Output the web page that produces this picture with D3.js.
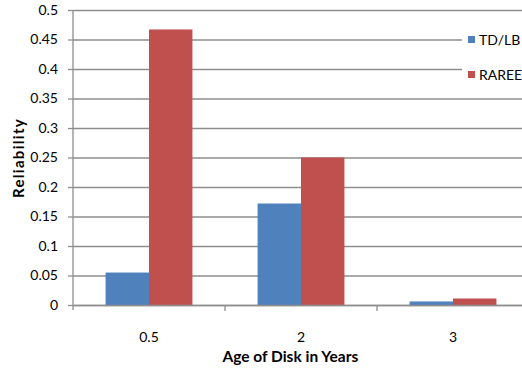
<!DOCTYPE html>
<html>
<head>
<meta charset="utf-8">
<script src="https://cdn.jsdelivr.net/npm/d3@7"></script>
<style>
  body { margin: 0; background: #fff; }
  text { font-family: Lato, "Liberation Sans", sans-serif; fill: #000; }
</style>
</head>
<body>
<div id="bar-chart"></div>
<script>
// chart data
const categories = ["0.5", "2", "3"];
const seriesNames = ["TD/LB", "RAREE"];
const tdlbValues = [0.055, 0.172, 0.006];
const rareeValues = [0.467, 0.25, 0.011];
const yTickValues = [0, 0.05, 0.1, 0.15, 0.2, 0.25, 0.3, 0.35, 0.4, 0.45, 0.5];

function draw() {
  // margins and dimensions of the svg area
  const margin = {top: 10, right: -7, bottom: 66, left: 73};
  const totalWidth = 522, totalHeight = 371;
  const width = totalWidth - margin.left - margin.right;
  const height = totalHeight - margin.top - margin.bottom;

  const svg = d3.select("#bar-chart")
    .append("svg")
    .attr("width", totalWidth)
    .attr("height", totalHeight);

  const chart = svg.append("g")
    .attr("transform", `translate(${margin.left}, ${margin.top})`);

  // build rows for the grouped bars
  const data = categories.map((c, i) => ({category: c, "TD/LB": tdlbValues[i], "RAREE": rareeValues[i]}));

  // scales
  const xScale = d3.scaleBand()
    .domain(categories)
    .range([0, width])
    .padding(0);

  const xInner = d3.scaleBand()
    .domain(seriesNames)
    .range([0, xScale.bandwidth()])
    .paddingInner(0)
    .paddingOuter(0.75);

  const yScale = d3.scaleLinear()
    .domain([0, 0.5])
    .range([height, 0]);

  const colorScale = d3.scaleOrdinal()
    .domain(seriesNames)
    .range(["#4f81bd", "#c0504d"]);

  // gridlines
  chart.append("g")
    .attr("class", "grid-lines")
    .call(d3.axisRight(yScale).tickValues(yTickValues).tickSize(width).tickFormat(""))
    .call(g => g.select(".domain").remove())
    .call(g => g.selectAll("line").attr("stroke", "#8e8e8e").attr("stroke-width", 1.3));

  // bars
  chart.append("g")
    .selectAll("g")
    .data(data)
    .join("g")
    .attr("transform", d => `translate(${xScale(d.category)}, 0)`)
    .selectAll("rect")
    .data(d => seriesNames.map(k => ({key: k, value: d[k]})))
    .join("rect")
    .attr("x", d => xInner(d.key))
    .attr("y", d => yScale(d.value))
    .attr("width", xInner.bandwidth())
    .attr("height", d => yScale(0) - yScale(d.value))
    .attr("fill", d => colorScale(d.key));

  // y axis
  const yAxisGroup = chart.append("g")
    .call(d3.axisLeft(yScale)
      .tickValues(yTickValues)
      .tickFormat(d => String(+d.toFixed(2)))
      .tickSize(5)
      .tickSizeOuter(0)
      .tickPadding(10));
  yAxisGroup.select(".domain").attr("stroke", "#8e8e8e").attr("stroke-width", 1.3)
    .attr("d", `M0,${height + 5}V0`);
  yAxisGroup.selectAll("line").attr("stroke", "#8e8e8e").attr("stroke-width", 1.3);
  yAxisGroup.selectAll("text").style("font-size", "14px").attr("fill", "#000");

  // x axis (ticks sit between the categories)
  const xAxisGroup = chart.append("g")
    .attr("transform", `translate(0, ${height})`)
    .call(d3.axisBottom(xScale).tickSize(0).tickSizeOuter(0).tickPadding(27));
  xAxisGroup.select(".domain").attr("stroke", "#8e8e8e").attr("stroke-width", 1.3);
  xAxisGroup.selectAll("text").style("font-size", "14px").attr("fill", "#000");
  xAxisGroup.selectAll(".sep")
    .data(categories.slice(1))
    .join("line")
    .attr("class", "sep")
    .attr("x1", d => xScale(d))
    .attr("x2", d => xScale(d))
    .attr("y1", 0)
    .attr("y2", 6)
    .attr("stroke", "#8e8e8e")
    .attr("stroke-width", 1.3);

  // axis titles
  svg.append("text")
    .attr("x", margin.left + xScale.bandwidth() * 1.43)
    .attr("y", 362)
    .attr("text-anchor", "middle")
    .style("font-size", "15.5px")
    .style("font-weight", "bold")
    .text("Age of Disk in Years");

  svg.append("text")
    .attr("transform", "translate(24, 158) rotate(-90)")
    .attr("text-anchor", "middle")
    .style("font-size", "15px")
    .style("font-weight", "bold")
    .style("letter-spacing", "1.3px")
    .text("Reliability");

  // legend
  const legend = svg.append("g").attr("transform", "translate(462, 26)");
  legend.append("rect")
    .attr("width", 62)
    .attr("height", 62)
    .attr("fill", "#fff");
  const items = legend.selectAll(".item")
    .data(seriesNames)
    .join("g")
    .attr("class", "item")
    .attr("transform", (d, i) => `translate(6, ${14 + i * 35})`);
  items.append("rect")
    .attr("y", -4)
    .attr("width", 7)
    .attr("height", 7)
    .attr("fill", d => colorScale(d));
  items.append("text")
    .attr("x", 11)
    .attr("dy", "0.35em")
    .style("font-size", "14px")
    .text(d => d);
}

draw();
</script>
</body>
</html>
